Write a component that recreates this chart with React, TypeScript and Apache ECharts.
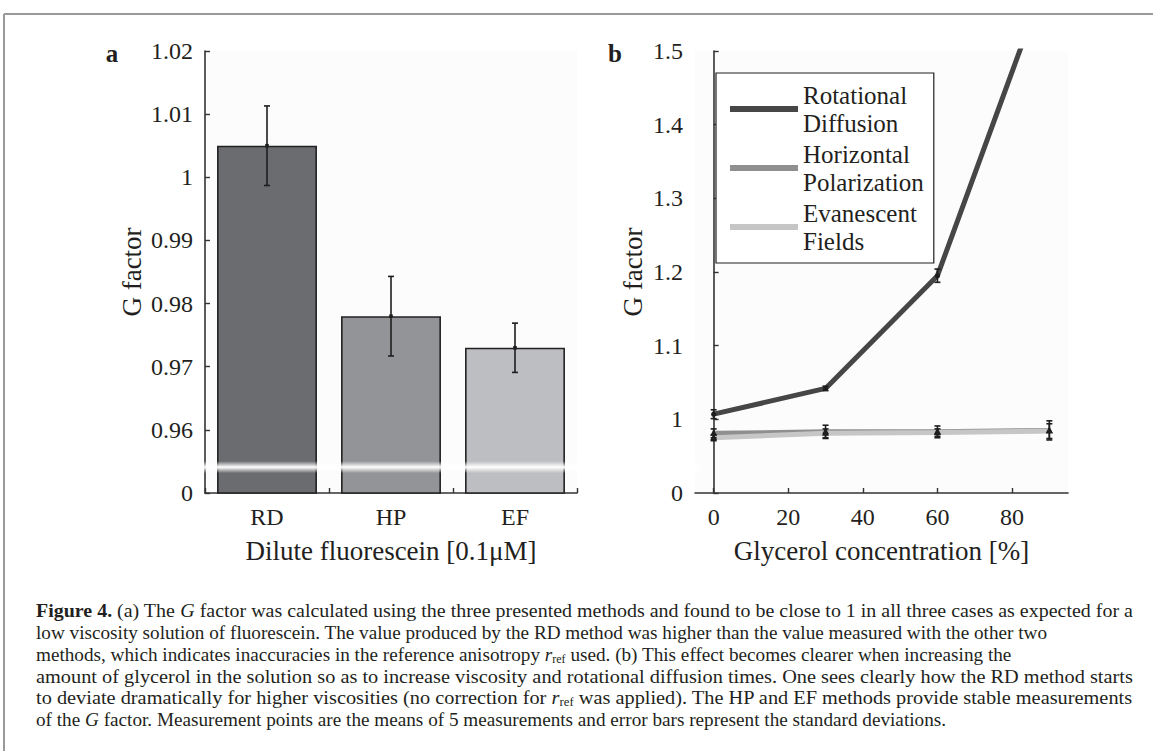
import React, { useEffect, useRef } from 'react';
import * as echarts from 'echarts';

// ---------- Panel a data ----------
const categories = ['RD', 'HP', 'EF'];
const barValues = [1.005, 0.978, 0.973];
const barErrors = [0.0063, 0.0063, 0.0039];
const barColors = ['#6b6c70', '#939497', '#bdbec1'];
const yTickLabelsA = ['0', '0.96', '0.97', '0.98', '0.99', '1', '1.01', '1.02'];

// ---------- Panel b data ----------
const glycerol = [0, 30, 60, 90];
const xTicksB = [0, 20, 40, 60, 80];
const yTickLabelsB = ['0', '1', '1.1', '1.2', '1.3', '1.4', '1.5'];
const rdValues = [1.007, 1.042, 1.195, 1.61];
const rdErrors = [0.006, 0.003, 0.009, 0.02];
const hpValues = [0.981, 0.983, 0.983, 0.985];
const hpErrors = [0.006, 0.009, 0.008, 0.013];
const efValues = [0.975, 0.981, 0.982, 0.984];
const efErrors = [0.004, 0.006, 0.005, 0.01];
const seriesNames = ['Rotational\nDiffusion', 'Horizontal\nPolarization', 'Evanescent\nFields'];
const lineColors = ['#464646', '#8f8f8f', '#c6c6c6'];

// ---------- Caption ----------
const captionLines = [
  '{b|Figure 4.} (a) The {i|G} factor was calculated using the three presented methods and found to be close to 1 in all three cases as expected for a',
  'low viscosity solution of fluorescein. The value produced by the RD method was higher than the value measured with the other two',
  'methods, which indicates inaccuracies in the reference anisotropy {i|r}{s|ref} used. (b) This effect becomes clearer when increasing the',
  'amount of glycerol in the solution so as to increase viscosity and rotational diffusion times. One sees clearly how the RD method starts',
  'to deviate dramatically for higher viscosities (no correction for {i|r}{s|ref} was applied). The HP and EF methods provide stable measurements',
  'of the {i|G} factor. Measurement points are the means of 5 measurements and error bars represent the standard deviations.',
];
const captionFullWidth = [true, false, false, true, true, false];

const FONT = '"Liberation Serif", "DejaVu Serif", serif';
const TXT = '#231f20';
const AXIS = '#333333';
const CAP_SIZE = 19.2;
const CAP_SUB = 12;

const gridA = { left: 205, top: 51, width: 372, height: 442 };
const gridB = { left: 695, top: 51, width: 373, height: 442 };

function measureRich(line: string): number {
  const ctx = document.createElement('canvas').getContext('2d');
  if (!ctx) return 0;
  let w = 0;
  const re = /\{(\w)\|([^}]*)\}/g;
  let last = 0;
  let m: RegExpExecArray | null;
  const seg = (text: string, style: string) => {
    if (style === 'b') ctx.font = `bold ${CAP_SIZE}px ${FONT}`;
    else if (style === 'i') ctx.font = `italic ${CAP_SIZE}px ${FONT}`;
    else if (style === 's') ctx.font = `${CAP_SUB}px ${FONT}`;
    else ctx.font = `${CAP_SIZE}px ${FONT}`;
    w += ctx.measureText(text).width;
  };
  while ((m = re.exec(line))) {
    seg(line.slice(last, m.index), '');
    seg(m[2], m[1]);
    last = m.index + m[0].length;
  }
  seg(line.slice(last), '');
  return w;
}

function errorBarRenderer(kind: 'dot' | 'tri' | 'circ', cap: number) {
  return (params: any, api: any) => {
    const x = api.value(0);
    const lo = api.coord([x, api.value(1)]);
    const hi = api.coord([x, api.value(2)]);
    const mid = api.coord([x, api.value(3)]);
    const st = { stroke: '#1e1e1e', lineWidth: 1.6 };
    const children: any[] = [
      { type: 'line', shape: { x1: lo[0], y1: lo[1], x2: hi[0], y2: hi[1] }, style: st },
      { type: 'line', shape: { x1: lo[0] - cap, y1: lo[1], x2: lo[0] + cap, y2: lo[1] }, style: st },
      { type: 'line', shape: { x1: hi[0] - cap, y1: hi[1], x2: hi[0] + cap, y2: hi[1] }, style: st },
    ];
    if (kind === 'dot') {
      children.push({ type: 'rect', shape: { x: mid[0] - 1.8, y: mid[1] - 1.8, width: 3.6, height: 3.6 }, style: { fill: '#1e1e1e' } });
    } else if (kind === 'circ') {
      children.push({ type: 'circle', shape: { cx: mid[0], cy: mid[1], r: 2.6 }, style: { fill: '#1e1e1e' } });
    } else {
      children.push({
        type: 'polygon',
        shape: { points: [[mid[0], mid[1] - 4], [mid[0] - 3.5, mid[1] + 2.5], [mid[0] + 3.5, mid[1] + 2.5]] },
        style: { fill: '#1e1e1e' },
      });
    }
    return { type: 'group', children };
  };
}

function buildOption(): any {
  const axisLine = { show: true, lineStyle: { color: AXIS, width: 1.6 } };
  const axisTick = { show: true, inside: true, length: 5, lineStyle: { color: AXIS, width: 1.4 } };
  const labelStyle = { color: TXT, fontFamily: FONT, fontSize: 24 };
  const nameStyle = { color: TXT, fontFamily: FONT, fontSize: 27 };

  const errA = categories.map((c, i) => [i, barValues[i] - barErrors[i], barValues[i] + barErrors[i], barValues[i]]);
  const mkErr = (vals: number[], errs: number[]) => glycerol.map((g, i) => [g, vals[i] - errs[i], vals[i] + errs[i], vals[i]]);

  return {
    animation: false,
    backgroundColor: '#ffffff',
    textStyle: { fontFamily: FONT },
    grid: [
      { ...gridA, backgroundColor: '#fcfcfc', show: true, borderWidth: 0 },
      { ...gridB, backgroundColor: '#fcfcfc', show: true, borderWidth: 0 },
    ],
    xAxis: [
      {
        gridIndex: 0,
        type: 'category',
        data: categories,
        axisLine,
        axisTick: { ...axisTick, alignWithLabel: false },
        axisLabel: { ...labelStyle, margin: 12 },
        name: 'Dilute fluorescein [0.1\u03bcM]',
        nameLocation: 'middle',
        nameGap: 44,
        nameTextStyle: nameStyle,
      },
      {
        gridIndex: 1,
        type: 'value',
        min: -5,
        max: 95,
        axisLine,
        axisTick: { ...axisTick, customValues: xTicksB },
        axisLabel: { ...labelStyle, margin: 12, customValues: xTicksB },
        splitLine: { show: false },
        name: 'Glycerol concentration [%]',
        nameLocation: 'middle',
        nameGap: 44,
        nameTextStyle: nameStyle,
      },
    ],
    yAxis: [
      {
        gridIndex: 0,
        type: 'value',
        min: 0.95,
        max: 1.02,
        interval: 0.01,
        axisLine,
        axisTick,
        axisLabel: { ...labelStyle, margin: 12, formatter: (v: number, i: number) => yTickLabelsA[i] ?? '' },
        splitLine: { show: false },
        name: 'G factor',
        nameLocation: 'middle',
        nameGap: 60,
        nameTextStyle: nameStyle,
      },
      {
        gridIndex: 1,
        type: 'value',
        min: 0.9,
        max: 1.5,
        interval: 0.1,
        axisLine,
        axisTick,
        axisLabel: { ...labelStyle, margin: 12, formatter: (v: number, i: number) => yTickLabelsB[i] ?? '' },
        splitLine: { show: false },
        name: 'G factor',
        nameLocation: 'middle',
        nameGap: 49,
        nameTextStyle: nameStyle,
      },
    ],
    legend: {
      left: 716,
      top: 73,
      orient: 'vertical',
      data: seriesNames,
      icon: 'rect',
      itemWidth: 68,
      itemHeight: 6,
      itemGap: 3,
      padding: [8, 10, 8, 14],
      borderColor: '#1e1e1e',
      borderWidth: 1.2,
      backgroundColor: '#ffffff',
      textStyle: { color: TXT, fontFamily: FONT, fontSize: 25, lineHeight: 28 },
      selectedMode: false,
    },
    series: [
      {
        type: 'bar',
        xAxisIndex: 0,
        yAxisIndex: 0,
        barWidth: '80.6%',
        data: barValues.map((v, i) => ({
          value: v,
          itemStyle: { color: barColors[i], borderColor: '#222', borderWidth: 1.6 },
        })),
      },
      {
        type: 'custom',
        xAxisIndex: 0,
        yAxisIndex: 0,
        renderItem: errorBarRenderer('dot', 3),
        data: errA,
        z: 5,
      },
      {
        name: seriesNames[0],
        type: 'line',
        xAxisIndex: 1,
        yAxisIndex: 1,
        data: glycerol.map((g, i) => [g, rdValues[i]]),
        showSymbol: false,
        color: lineColors[0],
        lineStyle: { color: lineColors[0], width: 5 },
        clip: true,
      },
      {
        name: seriesNames[1],
        type: 'line',
        xAxisIndex: 1,
        yAxisIndex: 1,
        data: glycerol.map((g, i) => [g, hpValues[i]]),
        showSymbol: false,
        color: lineColors[1],
        lineStyle: { color: lineColors[1], width: 5 },
        clip: true,
      },
      {
        name: seriesNames[2],
        type: 'line',
        xAxisIndex: 1,
        yAxisIndex: 1,
        data: glycerol.map((g, i) => [g, efValues[i]]),
        showSymbol: false,
        color: lineColors[2],
        lineStyle: { color: lineColors[2], width: 5 },
        clip: true,
      },
      {
        type: 'custom',
        xAxisIndex: 1,
        yAxisIndex: 1,
        renderItem: errorBarRenderer('circ', 3),
        data: mkErr(rdValues, rdErrors),
        clip: true,
        z: 5,
      },
      {
        type: 'custom',
        xAxisIndex: 1,
        yAxisIndex: 1,
        renderItem: errorBarRenderer('tri', 3),
        data: mkErr(hpValues, hpErrors),
        clip: true,
        z: 5,
      },
      {
        type: 'custom',
        xAxisIndex: 1,
        yAxisIndex: 1,
        renderItem: errorBarRenderer('tri', 3),
        data: mkErr(efValues, efErrors),
        clip: true,
        z: 5,
      },
    ],
  };
}

export default function App() {
  const ref = useRef<HTMLDivElement>(null);
  useEffect(() => {
    if (!ref.current) return;
    const chart = echarts.init(ref.current, null, { renderer: 'svg' });
    chart.setOption(buildOption());

    const breakA = chart.convertToPixel({ yAxisIndex: 0 }, 0.9541) as number;
    const breakB = chart.convertToPixel({ yAxisIndex: 1 }, 0.934) as number;
    const fade = () =>
      new echarts.graphic.LinearGradient(0, 0, 0, 1, [
        { offset: 0, color: 'rgba(255,255,255,0)' },
        { offset: 0.5, color: 'rgba(255,255,255,1)' },
        { offset: 1, color: 'rgba(255,255,255,0)' },
      ]);

    const capX = 36;
    const capRight = 1133;
    const capY0 = 611;
    const capStep = 21.6;
    const captionEls = captionLines.map((line, i) => {
      const natural = measureRich(line);
      const sx = captionFullWidth[i] && natural > 0 ? (capRight - capX) / natural : 1;
      return {
        type: 'text',
        z: 70,
        x: capX,
        y: capY0 + i * capStep,
        scaleX: sx,
        style: {
          text: line,
          fontFamily: FONT,
          fontSize: CAP_SIZE,
          lineHeight: 22,
          fill: TXT,
          align: 'left',
          verticalAlign: 'middle',
          rich: {
            b: { fontFamily: FONT, fontSize: CAP_SIZE, fontWeight: 'bold', lineHeight: 22, fill: TXT },
            i: { fontFamily: FONT, fontSize: CAP_SIZE, fontStyle: 'italic', lineHeight: 22, fill: TXT },
            s: { fontFamily: FONT, fontSize: CAP_SUB, lineHeight: 10, verticalAlign: 'bottom', fill: TXT },
          },
        },
      };
    });

    chart.setOption({
      graphic: [
        // figure frame
        { type: 'line', z: 50, shape: { x1: 4, y1: 14, x2: 1153, y2: 14 }, style: { stroke: '#9a9a9a', lineWidth: 2 } },
        { type: 'line', z: 50, shape: { x1: 4, y1: 14, x2: 4, y2: 751 }, style: { stroke: '#9a9a9a', lineWidth: 2 } },
        // axis break bands
        { type: 'rect', z: 60, shape: { x: gridA.left - 4, y: breakA - 6, width: gridA.width + 4, height: 12 }, style: { fill: fade() } },
        { type: 'rect', z: 60, shape: { x: gridB.left - 4, y: breakB - 6, width: 9, height: 12 }, style: { fill: fade() } },
        // panel letters
        { type: 'text', z: 70, x: 112, y: 53, style: { text: 'a', font: `bold 25px ${FONT}`, fill: TXT, align: 'center', verticalAlign: 'middle' } },
        { type: 'text', z: 70, x: 615, y: 53, style: { text: 'b', font: `bold 25px ${FONT}`, fill: TXT, align: 'center', verticalAlign: 'middle' } },
        ...captionEls,
      ],
    });
    return () => chart.dispose();
  }, []);
  return (
    <div
      ref={ref}
      style={{ position: 'fixed', left: 0, top: 0, width: 1153, height: 751, background: '#ffffff' }}
    />
  );
}
